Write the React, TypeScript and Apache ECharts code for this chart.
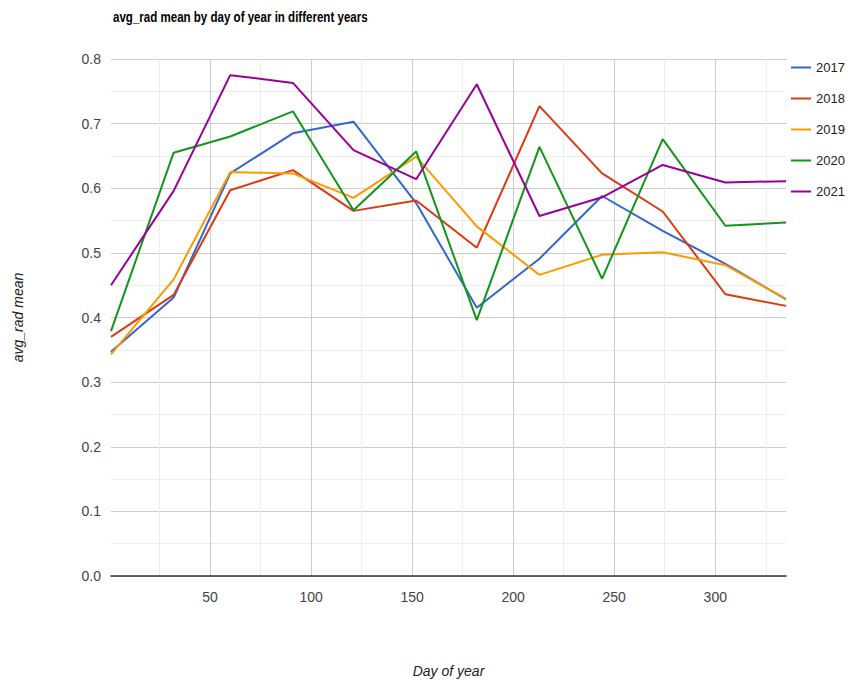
import React, { useEffect, useRef } from "react";
import * as echarts from "echarts";

const days = [1, 32, 60, 91, 121, 152, 182, 213, 244, 274, 305, 335];
const years = ["2017", "2018", "2019", "2020", "2021"];
const v2017 = [0.347, 0.431, 0.623, 0.685, 0.703, 0.577, 0.415, 0.491, 0.588, 0.534, 0.483, 0.428];
const v2018 = [0.370, 0.435, 0.597, 0.628, 0.565, 0.581, 0.508, 0.727, 0.623, 0.564, 0.436, 0.418];
const v2019 = [0.343, 0.459, 0.625, 0.623, 0.585, 0.649, 0.541, 0.466, 0.497, 0.501, 0.481, 0.429];
const v2020 = [0.379, 0.655, 0.680, 0.719, 0.566, 0.657, 0.396, 0.664, 0.460, 0.676, 0.542, 0.547];
const v2021 = [0.450, 0.596, 0.775, 0.763, 0.659, 0.614, 0.761, 0.557, 0.586, 0.636, 0.609, 0.611];
const seriesValues = [v2017, v2018, v2019, v2020, v2021];
const colors = ["#3366cc", "#dc3912", "#ff9900", "#109618", "#990099"];
const xGridValues = [25, 50, 75, 100, 125, 150, 175, 200, 225, 250, 275, 300, 325];
const xTickLabels = [50, 100, 150, 200, 250, 300];
const titleText = "avg_rad mean by day of year in different years";

const FONT = "'Liberation Sans', Arial, sans-serif";

export default function App() {
  const ref = useRef<HTMLDivElement>(null);
  useEffect(() => {
    document.body.style.margin = "0";
    if (!ref.current) return;
    const chart = echarts.init(ref.current, undefined, { renderer: "svg" });
    chart.setOption({
      animation: false,
      backgroundColor: "#ffffff",
      textStyle: { fontFamily: FONT },
      graphic: [
        {
          type: "text",
          x: 113,
          y: 9,
          scaleX: 0.77,
          style: {
            text: titleText,
            font: "bold 15px 'Liberation Sans', Arial, sans-serif",
            fill: "#000",
            textVerticalAlign: "top",
          },
        },
      ],
      legend: {
        orient: "vertical",
        left: 791,
        top: 61,
        padding: 0,
        icon: "rect",
        itemWidth: 20,
        itemHeight: 2,
        itemGap: 18,
        data: years,
        textStyle: { fontFamily: FONT, fontSize: 13, color: "#222" },
      },
      grid: { left: 111, right: 65, top: 59, bottom: 107, containLabel: false },
      xAxis: {
        type: "value",
        min: 1,
        max: 335,
        name: "Day of year",
        nameLocation: "middle",
        nameGap: 88,
        nameTextStyle: { fontFamily: FONT, fontSize: 14, fontStyle: "italic", color: "#222" },
        axisLine: { show: true, onZero: false, lineStyle: { color: "#333", width: 1.5 } },
        axisTick: { show: false, customValues: xGridValues },
        axisLabel: { customValues: xTickLabels, color: "#444", fontSize: 14, margin: 14, fontFamily: FONT },
        splitLine: { show: true, lineStyle: { color: ["#ececec", "#cccccc"], width: 1 } },
      },
      yAxis: {
        type: "value",
        min: 0,
        max: 0.8,
        interval: 0.1,
        name: "avg_rad mean",
        nameLocation: "middle",
        nameGap: 86,
        nameTextStyle: { fontFamily: FONT, fontSize: 14, fontStyle: "italic", color: "#222" },
        axisLine: { show: false },
        axisTick: { show: false },
        axisLabel: { color: "#444", fontSize: 14, margin: 10, fontFamily: FONT, formatter: (v: number) => v.toFixed(1) },
        splitLine: { show: true, lineStyle: { color: "#cccccc", width: 1 } },
        minorTick: { show: false, splitNumber: 2 },
        minorSplitLine: { show: true, lineStyle: { color: "#ececec", width: 1 } },
      },
      series: years.map((y, i) => ({
        name: y,
        type: "line",
        data: days.map((d, j) => [d, seriesValues[i][j]]),
        showSymbol: false,
        symbol: "none",
        lineStyle: { color: colors[i], width: 2 },
        itemStyle: { color: colors[i] },
      })),
    });
    return () => chart.dispose();
  }, []);
  return <div ref={ref} style={{ width: 851, height: 683 }} />;
}
